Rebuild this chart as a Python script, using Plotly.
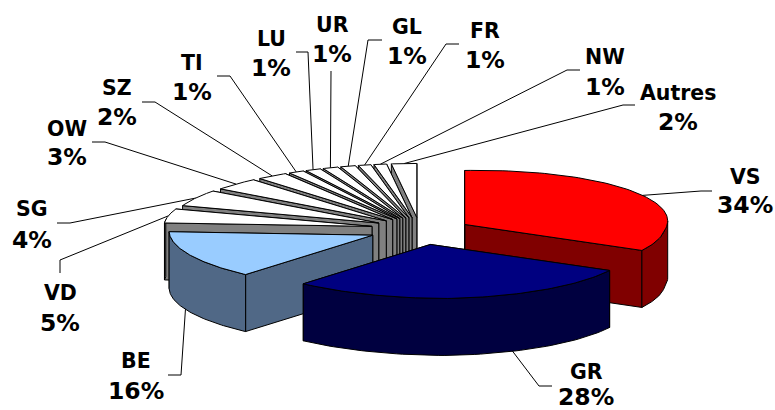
import numpy as np
import plotly.graph_objects as go

# Share of each canton, clockwise from twelve o'clock
cantons = ["VS", "GR", "BE", "VD", "SG", "OW", "SZ", "TI", "LU", "UR", "GL", "FR", "NW", "Autres"]
shares = [34, 28, 16, 5, 4, 3, 2, 1, 1, 1, 1, 1, 1, 2]

top_colors = ["#FF0000", "#000080", "#99CCFF"] + ["#FFFFFF"] * 11
side_colors = ["#800000", "#000040", "#506886"] + ["#808080"] * 11

# Label centres: x, y of the name row, y of the percent row
label_x = [745, 586, 136, 60, 32, 67, 117, 192, 271, 332, 407, 485, 605, 678]
name_y = [177, 372, 361, 293, 209, 129, 88, 63, 39, 25, 27, 31, 57, 93]
pct_y = [205, 397, 391, 323, 240, 157, 117, 92, 68, 54, 56, 60, 87, 122]

# Leader line path after it leaves the rim of the slice
leader_paths = [
    [(701, 191), (712, 191)],
    [(539, 386), (552, 386)],
    [(181, 375), (168, 375)],
    [(60, 260), (60, 273)],
    [(70, 223), (57, 223)],
    [(105, 142), (92, 142)],
    [(155, 102), (142, 102)],
    [(230, 76), (217, 76)],
    [(308, 52), (296, 52)],
    [(331, 71)],
    [(368, 40), (382, 40)],
    [(446, 44), (459, 44)],
    [(567, 70), (580, 70)],
    [(623, 105), (635, 105)],
]

# Pie geometry in page pixels
CX, CY = 420.0, 231.0
RX, RY = 203.0, 54.0
EXPLODE = 51.0
DEPTH = 57.0
SQUASH = RY / RX
FRONT_SKEW = 0.3
RIGHT_TILT = 3.5
BACK_FLARE = 5.0


def view_angle(t):
    # Perspective squeezes the back-left quarter of the disc
    return t - np.interp(t, [230, 280, 299, 345], [0, 7, 10, 0])


def skew(x, y):
    return x + FRONT_SKEW * np.maximum(y - CY, 0), y


def apex_of(mid):
    r = np.radians(mid)
    return CX + EXPLODE * np.sin(r), CY - EXPLODE * SQUASH * np.cos(r)


def rim(ax, ay, angles):
    r = np.radians(view_angle(np.asarray(angles, dtype=float)))
    dx, dy = RX * np.sin(r), -RY * np.cos(r)
    # The right side leans up, the far left edge flares outward
    y = ay + dy - RIGHT_TILT * np.maximum(dx, 0) / RX
    x, y = skew(ax + dx, y)
    flare = np.maximum(-dx, 0) / RX
    x = x - BACK_FLARE * flare**4 * np.clip((CY - y) / 8, 0, 1)
    return x, y


def polygon(xs, ys, fill):
    return go.Scatter(
        x=list(xs) + [xs[0]], y=list(ys) + [ys[0]],
        mode="lines", fill="toself", fillcolor=fill,
        line=dict(color="black", width=1),
        hoverinfo="skip", showlegend=False,
    )


fig = go.Figure()

edges = np.cumsum([0] + shares) * 3.6
starts, ends = edges[:-1], edges[1:]
mids = (starts + ends) / 2

# Leader lines sit behind the slices and disappear under them
for i in range(len(cantons)):
    ax, ay = apex_of(mids[i])
    sx, sy = rim(ax, ay, [mids[i]])
    path = [(sx[0], sy[0])] + leader_paths[i]
    fig.add_trace(go.Scatter(
        x=[p[0] for p in path], y=[p[1] for p in path],
        mode="lines", line=dict(color="black", width=1),
        hoverinfo="skip", showlegend=False,
    ))

# Far slices first so nearer ones paint over them
order = list(range(len(shares) - 1, 1, -1)) + [0, 1]
for i in order:
    a0, a1 = starts[i], ends[i]
    ax, ay = apex_of(mids[i])
    px, py = skew(ax, ay)
    side, top = side_colors[i], top_colors[i]

    # Radial walls
    for a in (a1, a0):
        ex, ey = rim(ax, ay, [a])
        fig.add_trace(polygon(
            [px, ex[0], ex[0], px],
            [py, ey[0], ey[0] + DEPTH, py + DEPTH], side))

    # Outer wall, only where the rim faces the viewer
    w0, w1 = max(a0, 90.0), min(a1, 285.0)
    if w1 > w0:
        wx, wy = rim(ax, ay, np.linspace(w0, w1, 60))
        fig.add_trace(polygon(
            list(wx) + list(wx[::-1]),
            list(wy) + list((wy + DEPTH)[::-1]), side))

    # Top face
    tx, ty = rim(ax, ay, np.linspace(a0, a1, 80))
    fig.add_trace(polygon([px] + list(tx), [py] + list(ty), top))

# Two-row labels: canton name above its percentage
for i, name in enumerate(cantons):
    rows = ((name, name_y[i], 20.5), (f"{shares[i]}%", pct_y[i], 23.5))
    for text, y, size in rows:
        fig.add_annotation(
            x=label_x[i], y=y, text=f"<b>{text}</b>", showarrow=False,
            xanchor="center", yanchor="middle",
            font=dict(family="DejaVu Sans", size=size, color="black"),
        )

fig.update_layout(
    width=775, height=410,
    margin=dict(l=0, r=0, t=0, b=0),
    paper_bgcolor="white", plot_bgcolor="white",
    xaxis=dict(range=[0, 775], visible=False, fixedrange=True),
    yaxis=dict(range=[410, 0], visible=False, fixedrange=True),
)

fig.write_html("out.html", config={"displayModeBar": False})
